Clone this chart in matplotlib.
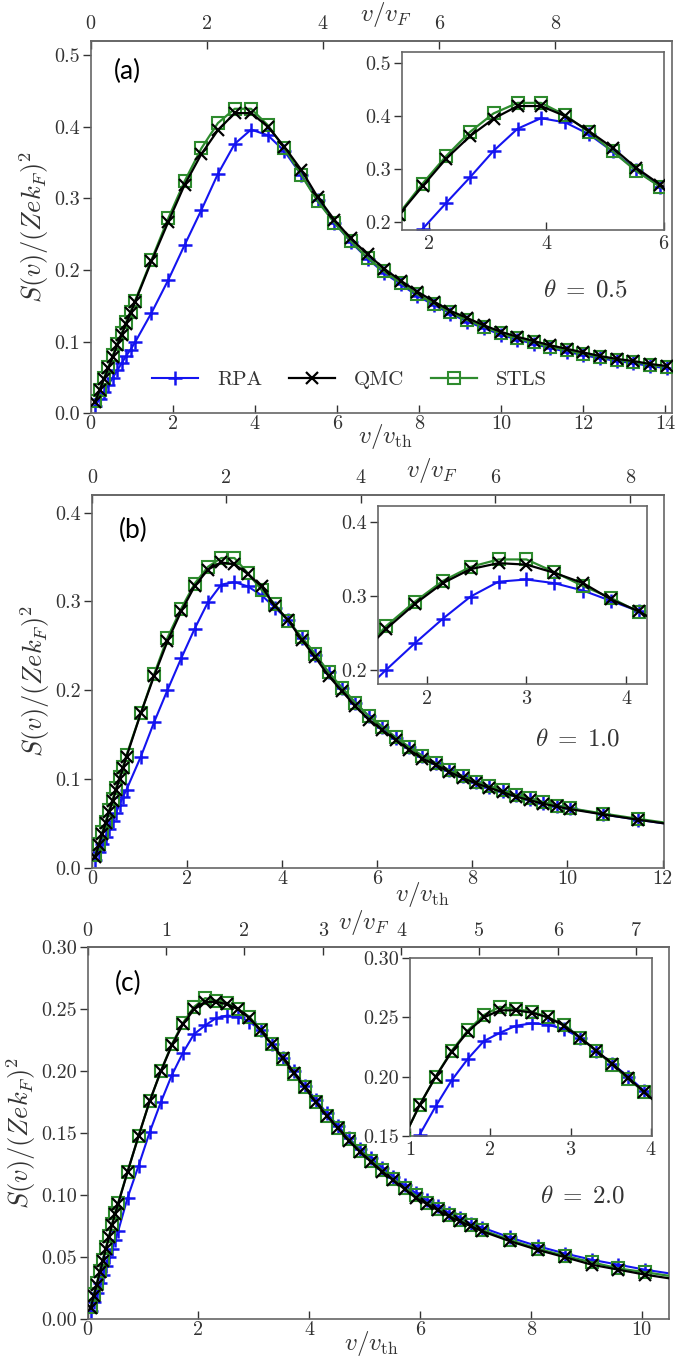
import numpy as np
import matplotlib
matplotlib.use('Agg')
import matplotlib.pyplot as plt
from matplotlib.ticker import FormatStrFormatter

plt.rcParams['font.family'] = 'cmr10'
plt.rcParams['mathtext.fontset'] = 'cm'
plt.rcParams['axes.unicode_minus'] = False
plt.rcParams['axes.formatter.use_mathtext'] = True

# ---------------- data ----------------
# panel (a), theta = 0.5
xa = [0.108, 0.216, 0.324, 0.432, 0.54, 0.648, 0.756, 0.864, 0.972, 1.08,
      1.48, 1.89, 2.29, 2.70, 3.10, 3.51, 3.91, 4.32, 4.72, 5.13, 5.53, 5.94,
      6.34, 6.75, 7.15, 7.56, 7.96, 8.37, 8.77, 9.18, 9.58, 9.99, 10.39, 10.80,
      11.20, 11.61, 12.01, 12.42, 12.82, 13.23, 13.63, 14.04]
rpa_a = [0.010, 0.020, 0.030, 0.040, 0.050, 0.060, 0.070, 0.080, 0.089, 0.099,
         0.140, 0.186, 0.235, 0.284, 0.334, 0.376, 0.396, 0.388, 0.366, 0.333, 0.298, 0.266,
         0.239, 0.216, 0.196, 0.180, 0.164, 0.151, 0.139, 0.128, 0.119, 0.110, 0.103, 0.097,
         0.091, 0.086, 0.081, 0.077, 0.073, 0.070, 0.066, 0.063]
qmc_a = [0.016, 0.032, 0.048, 0.063, 0.079, 0.095, 0.110, 0.125, 0.140, 0.155,
         0.212, 0.267, 0.319, 0.362, 0.395, 0.419, 0.419, 0.400, 0.372, 0.340, 0.302, 0.270,
         0.244, 0.222, 0.202, 0.185, 0.170, 0.156, 0.143, 0.133, 0.123, 0.114, 0.107, 0.101,
         0.095, 0.090, 0.085, 0.080, 0.076, 0.073, 0.069, 0.066]
stls_a = [0.017, 0.033, 0.049, 0.065, 0.081, 0.097, 0.112, 0.127, 0.142, 0.157,
          0.214, 0.272, 0.324, 0.370, 0.405, 0.425, 0.425, 0.402, 0.370, 0.333, 0.296, 0.266,
          0.240, 0.217, 0.198, 0.182, 0.166, 0.153, 0.141, 0.130, 0.121, 0.112, 0.105, 0.099,
          0.093, 0.088, 0.083, 0.079, 0.075, 0.072, 0.068, 0.065]

# panel (b), theta = 1.0
xb = [0.073, 0.146, 0.219, 0.292, 0.365, 0.438, 0.511, 0.584, 0.657, 0.73,
      1.03, 1.31, 1.59, 1.88, 2.16, 2.44, 2.72, 3.00, 3.28, 3.57, 3.85, 4.13,
      4.41, 4.70, 4.98, 5.26, 5.54, 5.82, 6.11, 6.39, 6.67, 6.95, 7.23, 7.51,
      7.80, 8.08, 8.36, 8.64, 8.92, 9.21, 9.49, 9.77, 10.05, 10.75, 11.49, 12.02]
rpa_b = [0.009, 0.018, 0.027, 0.035, 0.044, 0.053, 0.062, 0.071, 0.080, 0.088,
         0.125, 0.164, 0.200, 0.236, 0.269, 0.299, 0.319, 0.322, 0.317, 0.307, 0.293, 0.279,
         0.259, 0.240, 0.220, 0.202, 0.186, 0.171, 0.158, 0.146, 0.136, 0.126, 0.118, 0.110,
         0.103, 0.097, 0.091, 0.086, 0.082, 0.077, 0.073, 0.070, 0.067, 0.060, 0.054, 0.050]
qmc_b = [0.0125, 0.025, 0.0375, 0.050, 0.0625, 0.075, 0.0875, 0.100, 0.112, 0.125,
         0.174, 0.216, 0.255, 0.289, 0.317, 0.336, 0.344, 0.342, 0.331, 0.317, 0.295, 0.279,
         0.257, 0.237, 0.216, 0.199, 0.182, 0.167, 0.155, 0.144, 0.133, 0.123, 0.116, 0.108,
         0.101, 0.095, 0.090, 0.085, 0.080, 0.076, 0.072, 0.069, 0.066, 0.060, 0.054, 0.050]
stls_b = [0.014, 0.027, 0.040, 0.052, 0.065, 0.077, 0.090, 0.102, 0.114, 0.127,
          0.174, 0.218, 0.259, 0.292, 0.320, 0.339, 0.349, 0.349, 0.332, 0.313, 0.297, 0.278,
          0.260, 0.241, 0.220, 0.203, 0.186, 0.171, 0.159, 0.147, 0.136, 0.126, 0.118, 0.110,
          0.103, 0.097, 0.092, 0.087, 0.082, 0.078, 0.074, 0.070, 0.067, 0.061, 0.055, 0.051]

# panel (c), theta = 2.0
xc = [0.055, 0.11, 0.165, 0.22, 0.275, 0.33, 0.385, 0.44, 0.495, 0.55,
      0.72, 0.92, 1.12, 1.32, 1.52, 1.72, 1.92, 2.12, 2.32, 2.52, 2.72, 2.92,
      3.12, 3.32, 3.52, 3.72, 3.92, 4.12, 4.32, 4.52, 4.72, 4.92, 5.12, 5.32,
      5.52, 5.72, 5.92, 6.12, 6.32, 6.52, 6.72, 6.92, 7.12, 7.62, 8.12, 8.62,
      9.10, 9.58, 10.06, 10.5]
rpa_c = [0.007, 0.014, 0.021, 0.029, 0.036, 0.043, 0.050, 0.057, 0.064, 0.071,
         0.098, 0.124, 0.151, 0.175, 0.197, 0.215, 0.230, 0.237, 0.243, 0.245, 0.244, 0.240,
         0.233, 0.222, 0.211, 0.200, 0.188, 0.177, 0.166, 0.156, 0.146, 0.137, 0.130, 0.122,
         0.115, 0.108, 0.102, 0.096, 0.091, 0.086, 0.082, 0.077, 0.074, 0.066, 0.059, 0.053,
         0.048, 0.044, 0.040, 0.037]
qmc_c = [0.009, 0.019, 0.028, 0.038, 0.047, 0.057, 0.066, 0.076, 0.085, 0.093,
         0.119, 0.148, 0.176, 0.200, 0.221, 0.238, 0.250, 0.256, 0.256, 0.254, 0.250, 0.243,
         0.233, 0.222, 0.211, 0.199, 0.187, 0.175, 0.164, 0.154, 0.144, 0.135, 0.127, 0.119,
         0.112, 0.105, 0.098, 0.093, 0.088, 0.083, 0.079, 0.075, 0.071, 0.063, 0.056, 0.050,
         0.044, 0.040, 0.036, 0.033]
stls_c = [0.010, 0.020, 0.029, 0.039, 0.048, 0.058, 0.067, 0.077, 0.086, 0.094,
          0.119, 0.148, 0.176, 0.200, 0.222, 0.239, 0.252, 0.259, 0.257, 0.255, 0.250, 0.244,
          0.233, 0.222, 0.210, 0.198, 0.187, 0.175, 0.164, 0.154, 0.145, 0.136, 0.128, 0.120,
          0.113, 0.106, 0.100, 0.094, 0.089, 0.084, 0.080, 0.076, 0.072, 0.064, 0.057, 0.051,
          0.046, 0.041, 0.038, 0.035]

labels = ['RPA', 'QMC', 'STLS']
thetas = ['0.5', '1.0', '2.0']

BLUE = '#1414f0'
GREEN = '#2e8b2e'
TXT = '#333333'
SP = '#666666'

fig = plt.figure(figsize=(6.85, 13.57), dpi=100)


def style(ax, fs=14.5, xpad=1.5):
    ax.tick_params(axis='x', direction='in', labelsize=fs, colors=TXT, length=5.5,
                   width=1, pad=xpad)
    ax.tick_params(axis='y', direction='out', labelsize=fs, colors=TXT, length=6,
                   width=1, pad=2)
    for s in ax.spines.values():
        s.set_color(SP)
        s.set_linewidth(1.2)


def draw(ax, x, rpa, qmc, stls, mev):
    h1, = ax.plot(x, rpa, color=BLUE, lw=1.5, marker='+', ms=10, mew=1.8,
                  markevery=mev, zorder=2, label=labels[0])
    h3, = ax.plot(x, stls, color=GREEN, lw=1.6, marker='s', ms=8, mew=1.5,
                  mfc='none', markevery=mev, zorder=3, label=labels[2])
    h2, = ax.plot(x, qmc, color='black', lw=1.6, marker='x', ms=8.5, mew=1.6,
                  markevery=mev, zorder=4, label=labels[1])
    return h1, h2, h3


def panel(rect, inset_rect, x, rpa, qmc, stls, mev, xlim, ylim, yt, yfmt, top_ticks,
          ins_xlim, ins_ylim, ins_xt, ins_yt, ins_fmt, top_lab, bot_lab, tag, theta):
    ax = fig.add_axes(rect)
    h = draw(ax, x, rpa, qmc, stls, mev)
    ax.set_xlim(*xlim)
    ax.set_ylim(*ylim)
    ax.set_yticks(yt)
    ax.yaxis.set_major_formatter(FormatStrFormatter(yfmt))
    ax.set_xticks(np.arange(0, xlim[1] + 0.01, 2))
    ax.xaxis.set_major_formatter(FormatStrFormatter('%d'))
    style(ax)
    ax.set_ylabel(r'$S(v)/(Zek_F)^2$', fontsize=19, color=TXT, labelpad=2)
    ax.set_xlabel(r'$v/v_{\rm th}$', fontsize=18, color=TXT)
    ax.xaxis.set_label_coords(*bot_lab)
    ax.xaxis.label.set_verticalalignment('center')

    r = 1 / np.sqrt(2)
    sec = ax.secondary_xaxis('top', functions=(lambda v: v * r, lambda v: v / r))
    sec.set_xticks(top_ticks)
    sec.xaxis.set_major_formatter(FormatStrFormatter('%d'))
    style(sec, xpad=5.5)
    sec.set_xlabel(r'$v/v_F$', fontsize=18, color=TXT)
    sec.xaxis.set_label_coords(top_lab[0], top_lab[1], transform=ax.transAxes)
    sec.xaxis.label.set_verticalalignment('center')

    ax.text(tag[0], tag[1], tag[2], transform=ax.transAxes, fontsize=19,
            family='Lato', color='black', ha='center', va='center')
    ax.text(0.85, theta[0], r'$\theta \;=\; %s$' % theta[1], transform=ax.transAxes,
            fontsize=18, color=TXT, ha='center', va='center')

    ins = fig.add_axes(inset_rect)
    draw(ins, x, rpa, qmc, stls, mev)
    ins.set_xlim(*ins_xlim)
    ins.set_ylim(*ins_ylim)
    ins.set_xticks(ins_xt)
    ins.set_yticks(ins_yt)
    ins.xaxis.set_major_formatter(FormatStrFormatter('%d'))
    ins.yaxis.set_major_formatter(FormatStrFormatter(ins_fmt))
    style(ins, xpad=4)
    return ax, h


ax_a, h = panel([0.1324, 0.6954, 0.8492, 0.2746], [0.5869, 0.8305, 0.3819, 0.1314],
                xa, rpa_a, qmc_a, stls_a, None, (0, 14.18), (0, 0.52),
                [0, 0.1, 0.2, 0.3, 0.4, 0.5], '%.1f', [0, 2, 4, 6, 8],
                (1.54, 6.0), (0.184, 0.522), [2, 4, 6], [0.2, 0.3, 0.4, 0.5], '%.1f',
                (0.507, 1.07), (0.507, -0.063), (0.063, 0.917, '(a)'), (0.331, thetas[0]))

ax_a.legend(h, labels, loc='center', bbox_to_anchor=(0.445, 0.089), ncol=3,
            frameon=False, fontsize=15, handlelength=2.2, handletextpad=0.9,
            columnspacing=1.3, labelcolor=TXT)

mev_b = list(range(len(xb) - 1))
panel([0.134, 0.3606, 0.8347, 0.2746], [0.5518, 0.4959, 0.3927, 0.1312],
      xb, rpa_b, qmc_b, stls_b, mev_b, (0, 12.02), (0, 0.42),
      [0, 0.1, 0.2, 0.3, 0.4], '%.1f', [0, 2, 4, 6, 8],
      (1.51, 4.21), (0.181, 0.421), [2, 3, 4], [0.2, 0.3, 0.4], '%.1f',
      (0.595, 1.067), (0.579, -0.072), (0.072, 0.906, '(b)'), (0.343, thetas[1]))

mev_c = list(range(len(xc) - 1))
panel([0.128, 0.0278, 0.8492, 0.2741], [0.5985, 0.1629, 0.3527, 0.131],
      xc, rpa_c, qmc_c, stls_c, mev_c, (0, 10.5), (0, 0.30),
      [0, 0.05, 0.10, 0.15, 0.20, 0.25, 0.30], '%.2f', [0, 1, 2, 3, 4, 5, 6, 7],
      (1.0, 4.01), (0.15, 0.30), [1, 2, 3, 4], [0.15, 0.20, 0.25, 0.30], '%.2f',
      (0.475, 1.067), (0.487, -0.065), (0.07, 0.903, '(c)'), (0.33, thetas[2]))

fig.savefig('out.png', dpi=100)
